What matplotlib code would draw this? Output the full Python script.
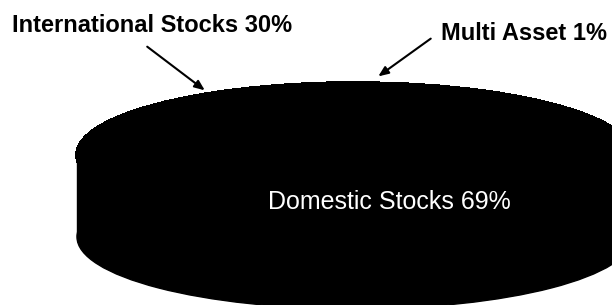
import matplotlib
matplotlib.use("Agg")
import matplotlib.pyplot as plt
from matplotlib.patches import Ellipse, Rectangle

# allocation data
labels = ["Domestic Stocks", "International Stocks", "Multi Asset"]
values = [69, 30, 1]

plt.rcParams['font.family'] = ['Liberation Sans', 'DejaVu Sans']

fig = plt.figure(figsize=(6.12, 3.05), dpi=100)
fig.patch.set_facecolor("white")

cx, top_cy, depth = 355, 155, 82
rx, ry = 278, 72

# top face of the pie, in its own squashed axes
pax = fig.add_axes([(cx - rx) / 612, (305 - top_cy - ry) / 305, 2 * rx / 612, 2 * ry / 305])
pax.pie(values, startangle=91.8, counterclock=False, radius=1,
        colors=["black"] * len(values),
        wedgeprops=dict(edgecolor="black", linewidth=2, antialiased=False))
pax.set_aspect("auto")
pax.set_xlim(-1, 1)
pax.set_ylim(-1, 1)
pax.axis("off")
for p in pax.patches:
    p.set_clip_on(False)

# base axes in pixel coordinates, drawn above the pie
ax = fig.add_axes([0, 0, 1, 1])
ax.set_zorder(2)
ax.patch.set_visible(False)
ax.set_xlim(0, 612)
ax.set_ylim(305, 0)
ax.axis("off")

# cylinder side of the 3d pie
ax.add_patch(Ellipse((cx, top_cy + depth), 2 * rx, 2 * ry, color="black"))
ax.add_patch(Rectangle((cx - rx, top_cy), 2 * rx, depth, color="black"))

# labels
ax.text(389, 202, "%s %d%%" % (labels[0], values[0]), color="white",
        fontsize=18, ha="center", va="center")
ax.text(12, 25, "%s %d%%" % (labels[1], values[1]), color="black",
        fontsize=17, fontweight="bold", ha="left", va="center")
ax.text(441, 34, "%s %d%%" % (labels[2], values[2]), color="black",
        fontsize=17, fontweight="bold", ha="left", va="center")

arrow = dict(arrowstyle="-|>,head_length=0.6,head_width=0.25", color="black", lw=1.5)
ax.annotate("", xy=(207, 92), xytext=(145, 45), arrowprops=arrow)
ax.annotate("", xy=(376, 78), xytext=(433, 37), arrowprops=arrow)

fig.savefig("out.png", dpi=100)
